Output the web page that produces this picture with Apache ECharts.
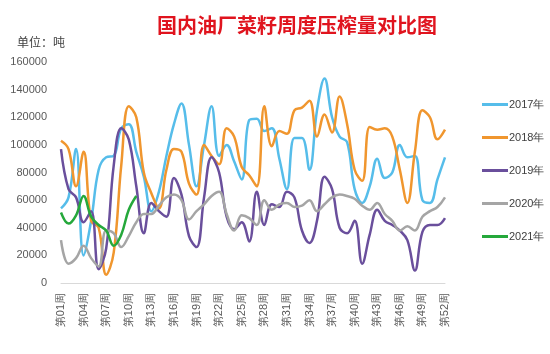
<!DOCTYPE html>
<html>
<head>
<meta charset="utf-8">
<script src="https://cdn.jsdelivr.net/npm/echarts@6/dist/echarts.min.js"></script>
<style>
  html, body { margin: 0; padding: 0; background: #fff; }
  #main { width: 550px; height: 354px; }
</style>
</head>
<body>
<div id="main"></div>
<script>
// 周次
var weeks = [];
for (var i = 1; i <= 52; i++) {
    weeks.push('第' + (i < 10 ? '0' + i : i) + '周');
}

var years = ['2017年', '2018年', '2019年', '2020年', '2021年'];

var data2017 = [54000, 62000, 97000, 20000, 45000, 82000, 91000, 92000, 112000, 115000,
    95000, 77000, 52000, 66000, 92000, 115000, 130000, 100000, 70000, 100000,
    128000, 92000, 100000, 88000, 75000, 118000, 119000, 110000, 112000, 90000,
    68000, 105000, 105000, 82000, 125000, 148000, 120000, 106000, 102000, 68000,
    58000, 70000, 90000, 76000, 80000, 100000, 91000, 92000, 60000, 58000,
    75000, 91000];
var data2018 = [103000, 97000, 70000, 95000, 45000, 40000, 6000, 22000, 85000, 128000,
    120000, 80000, 65000, 54000, 82000, 97000, 95000, 72000, 64000, 100000,
    92000, 86000, 112000, 106000, 84000, 78000, 70000, 128000, 99000, 110000,
    108000, 125000, 127000, 132000, 106000, 122000, 109000, 135000, 115000, 82000,
    74000, 113000, 111000, 112000, 106000, 82000, 58000, 95000, 125000, 120000,
    104000, 111000];
var data2019 = [97000, 68000, 62000, 44000, 52000, 10000, 25000, 85000, 112000, 104000,
    70000, 36000, 58000, 52000, 48000, 76000, 64000, 34000, 26000, 62000,
    91000, 80000, 48000, 39000, 44000, 30000, 66000, 42000, 57000, 55000,
    66000, 62000, 38000, 29000, 45000, 77000, 68000, 40000, 36000, 45000,
    14000, 35000, 53000, 45000, 42000, 38000, 31000, 9000, 37000, 42000,
    42000, 47000];
var data2020 = [31000, 14000, 18000, 27000, 18000, 12000, 38000, 36000, 26000, 34000,
    44000, 50000, 50000, 56000, 62000, 64000, 60000, 46000, 52000, 57000,
    63000, 66000, 50000, 38000, 49000, 47000, 42000, 60000, 53000, 57000,
    58000, 55000, 56000, 60000, 52000, 57000, 62000, 64000, 63000, 61000,
    56000, 53000, 58000, 50000, 45000, 38000, 41000, 38000, 48000, 52000,
    55000, 62000];
var data2021 = [51000, 43000, 49000, 63000, 48000, 42000, 38000, 27000, 35000, 53000,
    63000];

var colors = ['#56bdea', '#f0962e', '#6a4f9c', '#a5a5a5', '#25a83b'];

var myChart = echarts.init(document.getElementById('main'));

function makeSeries(name, data) {
    return {
        name: name,
        type: 'line',
        data: data,
        smooth: 0.4,
        symbol: 'none',
        lineStyle: { width: 2.5 }
    };
}

var option = {
    color: colors,
    animation: false,
    title: [{
        text: '国内油厂菜籽周度压榨量对比图',
        left: 292,
        textAlign: 'center',
        top: 10,
        textStyle: {
            color: '#e0141e',
            fontSize: 20,
            fontWeight: 'bold',
            fontFamily: 'Noto Sans CJK SC'
        }
    }, {
        text: '单位：吨',
        left: 12,
        top: 31,
        textStyle: {
            color: '#404040',
            fontSize: 12,
            fontWeight: 'normal',
            fontFamily: 'Noto Sans CJK SC'
        }
    }],
    legend: {
        orient: 'vertical',
        left: 482,
        top: 99,
        padding: 0,
        itemGap: 22,
        itemWidth: 26,
        itemHeight: 3,
        icon: 'rect',
        data: years,
        textStyle: { color: '#404040', fontSize: 11, padding: [0, 0, 0, -4] }
    },
    grid: {
        left: 61,
        right: 105,
        top: 62,
        bottom: 71
    },
    xAxis: {
        type: 'category',
        data: weeks,
        boundaryGap: false,
        axisLine: { lineStyle: { color: '#d9d9d9' } },
        axisTick: { show: false },
        axisLabel: {
            interval: 2,
            rotate: 90,
            color: '#595959',
            fontSize: 11,
            margin: 10
        }
    },
    yAxis: {
        type: 'value',
        min: 0,
        max: 160000,
        interval: 20000,
        axisLine: { show: false },
        axisTick: { show: false },
        splitLine: { show: false },
        axisLabel: {
            color: '#595959',
            fontSize: 11,
            margin: 14,
            formatter: function (v) { return String(v); }
        }
    },
    series: [
        makeSeries('2017年', data2017),
        makeSeries('2018年', data2018),
        makeSeries('2019年', data2019),
        makeSeries('2020年', data2020),
        makeSeries('2021年', data2021)
    ]
};
myChart.setOption(option);
</script>
</body>
</html>
